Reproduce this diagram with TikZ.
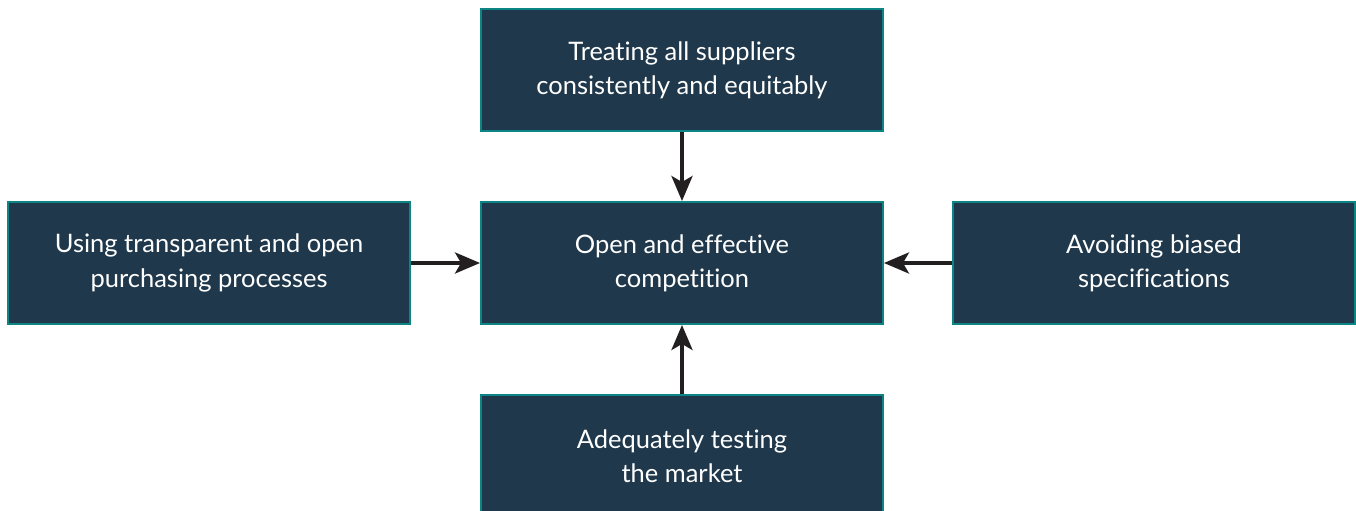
\documentclass[tikz,border=0pt]{standalone}
\usepackage{fontspec}
\setmainfont{Lato}[Ligatures=NoCommon]
\usetikzlibrary{positioning,arrows.meta}

\definecolor{boxfill}{HTML}{1F384B}
\definecolor{boxedge}{HTML}{0E8585}
\definecolor{arrowink}{HTML}{231F20}

\begin{document}
\begin{tikzpicture}
        [
            boxed/.style    = {shape=rectangle, draw=boxedge, fill=boxfill, line width=1.1pt,
                               minimum width=8.04cm, minimum height=2.44cm, align=center,
                               text=white, font=\fontsize{14.5}{19.5}\selectfont},
            feeds/.style    = {draw=arrowink, line width=2.2pt,
                               -{Stealth[length=0.5cm, width=0.42cm, inset=0.12cm]}},
            node distance   = 1.38cm,
        ]
        \useasboundingbox (0,0) rectangle (27.12,10.22);

        \node [boxed] (goal) at (13.64,4.96) {Open and effective\\competition};
        \node [boxed, above=of goal] (treat) {Treating all suppliers\\consistently and equitably};
        \node [boxed, left=of goal] (open) {Using transparent and open\\purchasing processes};
        \node [boxed, right=1.36cm of goal] (specs) {Avoiding biased\\specifications};
        \node [boxed, below=of goal] (market) {Adequately testing\\the market};

        \draw [feeds] (treat) -- (goal);
        \draw [feeds] (open) -- (goal);
        \draw [feeds] (specs) -- (goal);
        \draw [feeds] (market) -- (goal);
    \end{tikzpicture}
\end{document}
